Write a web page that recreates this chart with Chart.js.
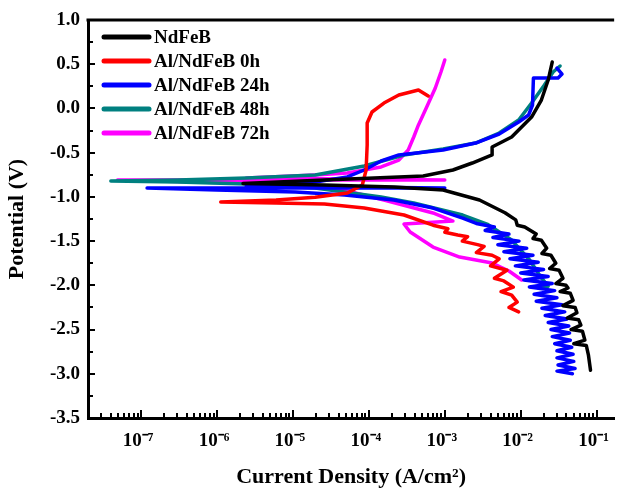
<!DOCTYPE html>
<html>
<head>
<meta charset="utf-8">
<script src="https://cdn.jsdelivr.net/npm/chart.js@4.4.1/dist/chart.umd.min.js"></script>
<style>
  html, body { margin: 0; padding: 0; background: #fff; }
</style>
</head>
<body>
<canvas id="tafelChart" width="624" height="493"></canvas>
<script>
// Tafel curves: current density (A/cm2) vs potential (V), sweep order cathodic -> anodic
const seriesNames = ['NdFeB', 'Al/NdFeB 0h', 'Al/NdFeB 24h', 'Al/NdFeB 48h', 'Al/NdFeB 72h'];
const seriesColors = ['#000000', '#ff0000', '#0000ff', '#008080', '#ff00ff'];

const ndfebI = [8.3e-2, 7.8e-2, 7.3e-2, 5.0e-2, 7.0e-2, 6.5e-2, 4.6e-2, 6.2e-2, 5.8e-2, 4.1e-2, 5.5e-2, 5.2e-2, 3.6e-2, 4.9e-2, 4.5e-2, 3.3e-2, 4.2e-2, 3.95e-2, 2.9e-2, 3.6e-2, 3.2e-2, 2.4e-2, 2.9e-2, 2.5e-2, 1.9e-2, 2.2e-2, 1.87e-2, 1.45e-2, 1.6e-2, 1.13e-2, 9.0e-3, 8.6e-3, 6.2e-3, 2.86e-3, 9.5e-4, 2.13e-4, 2.6e-5, 2.2e-6,
  2.6e-5, 1.17e-4, 5.2e-4, 1.28e-3, 2.3e-3, 4.2e-3, 4.2e-3, 7.6e-3, 1.39e-2, 1.87e-2, 2.3e-2, 2.6e-2];
const ndfebE = [-2.96, -2.79, -2.68, -2.66, -2.62, -2.52, -2.50, -2.45, -2.39, -2.37, -2.31, -2.25, -2.23, -2.17, -2.09, -2.07, -2.03, -2.00, -1.98, -1.92, -1.83, -1.81, -1.75, -1.66, -1.64, -1.58, -1.49, -1.47, -1.42, -1.34, -1.32, -1.26, -1.18, -1.035, -0.922, -0.888, -0.866, -0.85,
  -0.81, -0.787, -0.764, -0.696, -0.617, -0.526, -0.436, -0.323, -0.097, 0.095, 0.321, 0.525];

const al0I = [9.4e-3, 7.0e-3, 9.0e-3, 7.6e-3, 5.5e-3, 8.0e-3, 6.0e-3, 4.5e-3, 6.6e-3, 4.0e-3, 5.2e-3, 4.2e-3, 2.6e-3, 3.3e-3, 2.7e-3, 1.7e-3, 2.0e-3, 1.48e-3, 1.0e-3, 1.1e-3, 7.0e-4, 2.9e-4, 8.7e-5, 2.6e-5, 6.0e-6, 1.12e-6,
  6.0e-6, 1.96e-5, 5.2e-5, 8.2e-5, 9.2e-5, 9.5e-5, 9.5e-5, 1.1e-4, 1.58e-4, 2.48e-4, 4.5e-4, 6.05e-4];
const al0E = [-2.30, -2.25, -2.19, -2.11, -2.07, -2.02, -1.95, -1.92, -1.83, -1.78, -1.70, -1.66, -1.63, -1.56, -1.54, -1.50, -1.45, -1.43, -1.40, -1.36, -1.32, -1.205, -1.126, -1.08, -1.069, -1.058,
  -1.035, -1.003, -0.956, -0.866, -0.696, -0.413, -0.165, -0.04, 0.061, 0.152, 0.208, 0.141];

const al24I = [4.8e-2, 3.0e-2, 5.2e-2, 3.1e-2, 5.0e-2, 3.0e-2, 4.9e-2, 3.0e-2, 4.7e-2, 2.8e-2, 4.5e-2, 2.6e-2, 4.4e-2, 2.5e-2, 4.3e-2, 2.3e-2, 4.1e-2, 2.1e-2, 3.8e-2, 1.9e-2, 3.5e-2, 1.6e-2, 3.0e-2, 1.5e-2, 2.8e-2, 1.3e-2, 2.6e-2, 1.1e-2, 2.3e-2, 1.0e-2, 2.0e-2, 8.5e-3, 1.7e-2, 7.2e-3, 1.45e-2, 6.0e-3, 1.2e-2, 5.0e-3, 9.5e-3, 4.3e-3, 7.0e-3, 3.4e-3, 4.5e-3, 2.6e-3,
  1.72e-3, 7.0e-4, 2.13e-4, 4.8e-5, 1.08e-5, 9.9e-7, 1.2e-7, 1.0e-3,
  2.43e-6, 1.96e-5, 5.2e-5, 8.7e-5, 1.45e-4, 2.48e-4, 9.5e-4, 2.54e-3, 5.2e-3, 9.4e-3, 1.27e-2, 1.43e-2, 1.47e-2, 3.1e-2, 3.5e-2, 3.0e-2];
const al24E = [-3.00, -2.97, -2.94, -2.90, -2.86, -2.82, -2.78, -2.74, -2.70, -2.66, -2.62, -2.58, -2.54, -2.50, -2.46, -2.42, -2.38, -2.34, -2.30, -2.26, -2.22, -2.18, -2.14, -2.10, -2.06, -2.02, -1.98, -1.94, -1.90, -1.86, -1.82, -1.78, -1.74, -1.70, -1.66, -1.62, -1.58, -1.54, -1.50, -1.46, -1.42, -1.38, -1.34, -1.30,
  -1.24, -1.126, -1.035, -0.979, -0.945, -0.922, -0.90, -0.90,
  -0.877, -0.832, -0.775, -0.696, -0.594, -0.526, -0.47, -0.391, -0.289, -0.153, -0.074, 0.039, 0.344, 0.344, 0.389, 0.457];

const al48I = [1.71e-2, 2.3e-2, 1.87e-2, 1.31e-2, 7.6e-3, 3.6e-3, 1.72e-3, 3.9e-4, 1.45e-4, 1.96e-5, 2.43e-6, 3.0e-7, 4.0e-8,
  3.0e-7, 2.43e-6, 1.96e-5, 8.7e-5, 2.9e-4, 9.5e-4, 2.54e-3, 5.2e-3, 9.4e-3, 1.39e-2, 2.05e-2, 2.67e-2, 3.3e-2];
const al48E = [-2.03, -2.01, -1.917, -1.714, -1.488, -1.307, -1.205, -1.069, -1.001, -0.9, -0.854, -0.832, -0.82,
  -0.809, -0.787, -0.753, -0.651, -0.527, -0.459, -0.391, -0.278, -0.131, 0.061, 0.265, 0.412, 0.48];

const al72I = [1.03e-2, 7.0e-3, 4.2e-3, 1.57e-3, 7.0e-4, 3.5e-4, 2.9e-4, 1.28e-3, 7.0e-4, 1.58e-4, 3.6e-5, 6.0e-6, 5.5e-7, 4.9e-8, 1.0e-3,
  2.43e-6, 1.96e-5, 5.2e-5, 1.45e-4, 2.48e-4, 3.3e-4, 3.9e-4, 4.5e-4, 5.7e-4, 7.5e-4, 8.9e-4, 1.0e-3];
const al72E = [-1.94, -1.838, -1.748, -1.68, -1.567, -1.397, -1.307, -1.273, -1.182, -1.035, -0.9, -0.854, -0.832, -0.809, -0.809,
  -0.787, -0.753, -0.73, -0.662, -0.583, -0.47, -0.323, -0.187, 0.005, 0.231, 0.412, 0.548];

const xTickValues = [1e-7, 1e-6, 1e-5, 1e-4, 1e-3, 1e-2, 1e-1];
const xTickLabels = ['10⁻⁷', '10⁻⁶', '10⁻⁵', '10⁻⁴', '10⁻³', '10⁻²', '10⁻¹'];
const yTickValues = [-3.5, -3.0, -2.5, -2.0, -1.5, -1.0, -0.5, 0.0, 0.5, 1.0];

const FONT = "'Liberation Serif', 'Times New Roman', serif";

function pairs(xs, ys) {
  return xs.map((x, i) => ({ x: x, y: ys[i] }));
}

const currents = [ndfebI, al0I, al24I, al48I, al72I];
const potentials = [ndfebE, al0E, al24E, al48E, al72E];

// inward ticks, top frame line and the in-plot legend
const frameAndLegend = {
  id: 'frameAndLegend',
  afterDraw(chart) {
    const ctx = chart.ctx;
    const area = chart.chartArea;
    const xs = chart.scales.x;
    const ys = chart.scales.y;
    ctx.save();
    ctx.strokeStyle = '#000';
    ctx.lineWidth = 3;
    ctx.beginPath();
    ctx.moveTo(area.left - 1.5, area.top);
    ctx.lineTo(area.right, area.top);
    ctx.stroke();

    ctx.lineWidth = 2;
    ctx.beginPath();
    for (let e = -8; e <= -1; e++) {
      for (let k = 1; k <= 9; k++) {
        const v = k * Math.pow(10, e);
        if (v < xs.min || v > xs.max) continue;
        const px = Math.round(xs.getPixelForValue(v));
        const len = k === 1 ? 8 : 5;
        ctx.moveTo(px, area.bottom);
        ctx.lineTo(px, area.bottom - len);
      }
    }
    for (let v = -3.5; v <= 1.0001; v += 0.25) {
      const py = Math.round(ys.getPixelForValue(v));
      const major = Math.abs(v * 2 - Math.round(v * 2)) < 1e-6;
      ctx.moveTo(area.left, py);
      ctx.lineTo(area.left + (major ? 7 : 5), py);
    }
    ctx.stroke();

    ctx.font = 'bold 19px ' + FONT;
    ctx.textBaseline = 'middle';
    ctx.textAlign = 'left';
    chart.data.datasets.forEach((ds, i) => {
      const y = area.top + 17 + i * 24;
      ctx.strokeStyle = ds.borderColor;
      ctx.lineWidth = 5;
      ctx.lineCap = 'round';
      ctx.beginPath();
      ctx.moveTo(area.left + 16, y);
      ctx.lineTo(area.left + 61, y);
      ctx.stroke();
      ctx.fillStyle = '#000';
      ctx.fillText(ds.label, area.left + 66, y + 1);
    });
    ctx.restore();
  }
};

new Chart(document.getElementById('tafelChart'), {
  type: 'scatter',
  data: {
    datasets: seriesNames.map((name, i) => ({
      label: name,
      data: pairs(currents[i], potentials[i]),
      showLine: true,
      borderColor: seriesColors[i],
      backgroundColor: seriesColors[i],
      borderWidth: 3.5,
      borderCapStyle: 'round',
      borderJoinStyle: 'round',
      pointRadius: 0,
      tension: 0
    }))
  },
  options: {
    responsive: false,
    animation: false,
    devicePixelRatio: 1,
    layout: { padding: { left: 0, top: 20, right: 0, bottom: 0 } },
    plugins: {
      legend: { display: false },
      tooltip: { enabled: false }
    },
    scales: {
      x: {
        type: 'logarithmic',
        min: 2e-8,
        max: 0.17,
        afterBuildTicks: s => { s.ticks = xTickValues.map(v => ({ value: v })); },
        afterFit: s => { s.height = 75; },
        grid: { display: false, drawTicks: false },
        border: { display: true, color: '#000', width: 3 },
        ticks: {
          color: '#000',
          padding: 12,
          labelOffset: -3,
          maxRotation: 0,
          font: { family: FONT, size: 19, weight: 'bold' },
          callback: (v, i) => xTickLabels[i]
        },
        title: {
          display: true,
          text: 'Current Density (A/cm²)',
          color: '#000',
          font: { family: FONT, size: 22, weight: 'bold' },
          padding: { top: 0, bottom: 2 }
        }
      },
      y: {
        min: -3.5,
        max: 1.0,
        afterBuildTicks: s => { s.ticks = yTickValues.map(v => ({ value: v })); },
        afterFit: s => { s.width = 88; },
        grid: { display: false, drawTicks: false },
        border: { display: true, color: '#000', width: 3 },
        ticks: {
          color: '#000',
          padding: 8,
          font: { family: FONT, size: 19, weight: 'bold' },
          callback: v => v.toFixed(1)
        },
        title: {
          display: true,
          text: 'Potential (V)',
          color: '#000',
          font: { family: FONT, size: 22, weight: 'bold' },
          padding: { top: 4, bottom: 0 }
        }
      }
    }
  },
  plugins: [frameAndLegend]
});
</script>
</body>
</html>
